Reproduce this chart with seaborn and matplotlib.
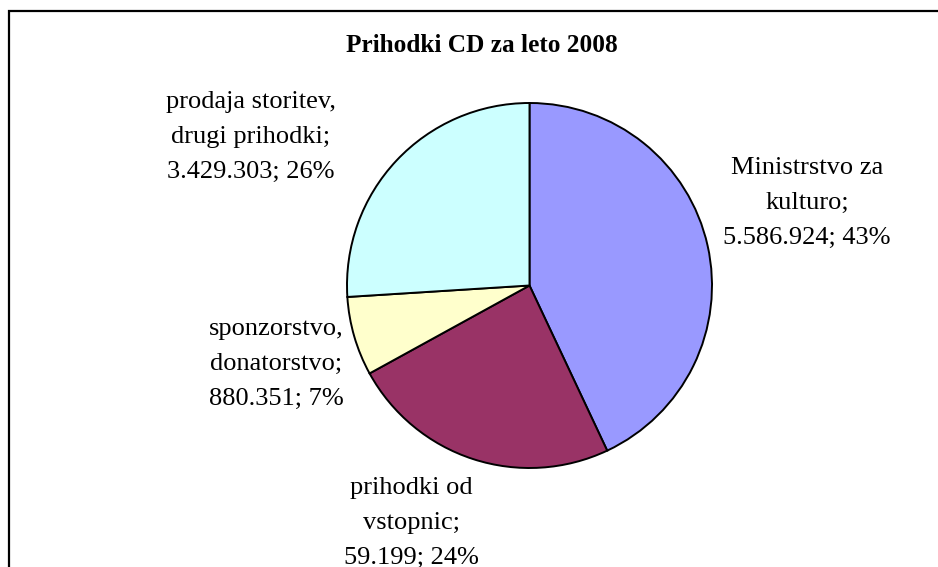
import matplotlib
matplotlib.use("Agg")
import matplotlib.pyplot as plt
import seaborn as sns

# ---- data ----
categories = ["Ministrstvo za\nkulturo", "prihodki od\nvstopnic", "sponzorstvo,\ndonatorstvo", "prodaja storitev,\ndrugi prihodki"]
percents = [43, 24, 7, 26]
value_labels = ["5.586.924", "59.199", "880.351", "3.429.303"]
colors = ["#9999FF", "#993366", "#FFFFCC", "#CCFFFF"]
title = "Prihodki CD za leto 2008"

sns.set_theme(style="white")
plt.rcParams["font.family"] = ["Liberation Serif", "DejaVu Serif"]

W, H = 938, 567
fig = plt.figure(figsize=(W / 100, H / 100), dpi=100)
fig.patch.set_facecolor("white")

def fx(px):
    return px / W

def fy(py):
    return 1 - py / H

# pie axes: center (529.5, 285.5), radius 182.5 px
left, right, top, bottom = 347, 712, 103, 468
ax = fig.add_axes([fx(left), fy(bottom), fx(right - left), (bottom - top) / H])
palette = sns.color_palette(colors)
ax.pie(percents, colors=palette, startangle=90, counterclock=False,
       wedgeprops=dict(edgecolor="black", linewidth=1.4), radius=1)
ax.set_xlim(-1, 1)
ax.set_ylim(-1, 1)
ax.set_aspect("auto")
ax.axis("off")

# label positions (pixel centers of text blocks)
label_pos = [(807, 203), (411, 523), (276, 364), (251, 137)]
for cat, val, pct, (px, py) in zip(categories, value_labels, percents, label_pos):
    txt = f"{cat};\n{val}; {pct}%" if not cat.endswith(",") else f"{cat}\n{val}; {pct}%"
    fig.text(fx(px), fy(py), txt, ha="center", va="center", fontsize=19,
             linespacing=1.75, color="black", multialignment="center")

fig.text(fx(482), fy(46), title, ha="center", va="center", fontsize=18.2,
         fontweight="bold", color="black")

# chart frame (extends beyond right and bottom edges)
frame = plt.Rectangle((fx(9), fy(H + 40)), 1.2, (H + 40 - 11) / H,
                      transform=fig.transFigure, fill=False,
                      edgecolor="black", linewidth=1.6)
fig.patches.append(frame)

fig.savefig("out.png", dpi=100, facecolor="white")
